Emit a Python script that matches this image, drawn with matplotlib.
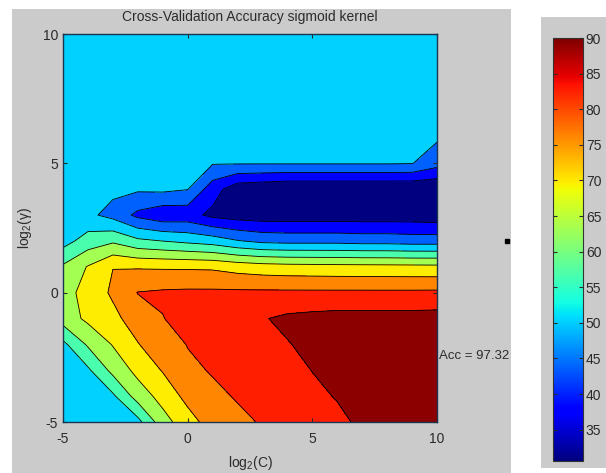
import matplotlib
matplotlib.use('Agg')
import matplotlib.pyplot as plt
from matplotlib.patches import Rectangle
from matplotlib import cm, colors
import numpy as np

plt.rcParams['font.family'] = ['Liberation Sans Narrow', 'Liberation Sans', 'DejaVu Sans']
plt.rcParams['mathtext.default'] = 'regular'
plt.rcParams['axes.unicode_minus'] = False

# grid of the search
log2c = list(range(-5, 11))
log2g = list(range(-5, 11))

# cross-validation accuracy (%), one row per log2(gamma) from -5 up to 10,
# columns are log2(C) = -5 .. 10
acc_g_m5 = [53, 53, 53, 54.5, 67, 73.5, 79, 81.5, 83, 84.5, 86, 88, 90, 92, 93, 93.5]
acc_g_m4 = [53, 53, 55.5, 66, 72, 78, 81.5, 83, 84.5, 86, 88, 89.4, 91, 92.5, 93, 93.5]
acc_g_m3 = [53, 55.5, 65, 71.5, 76.5, 81.5, 83, 84.5, 86, 87.5, 89.2, 90.5, 92, 93, 93.5, 93.5]
acc_g_m2 = [55, 64, 70, 75.8, 80, 82.8, 84.5, 86, 87.5, 88.8, 90.5, 91.5, 92.5, 93, 93, 93]
acc_g_m1 = [66, 71, 74.5, 79, 82.4, 85, 86.5, 87.5, 88.7, 90.3, 91, 91.5, 91.5, 91.5, 91.5, 91.7]
acc_g_0 = [66.5, 72.5, 77, 82.8, 83.5, 83.8, 83.8, 83.8, 83.8, 83.8, 83.8, 83.8, 83.8, 83.8, 83.8, 83.9]
acc_g_1 = [64, 70, 76, 75.5, 75.3, 75.2, 75, 73.5, 72.5, 72, 71.8, 71.6, 71.5, 71.4, 71.3, 71.2]
acc_g_2 = [54, 59.5, 62, 58, 56.5, 55, 53.5, 50.5, 48.5, 48, 48, 48, 47.5, 47.5, 47, 47]
acc_g_3 = [53, 51.5, 48, 42, 39, 39.5, 35.5, 34, 33.5, 33.5, 33.5, 33.5, 33.5, 33.5, 33.5, 33]
acc_g_4 = [53, 53, 51.5, 51, 51.5, 50.3, 40, 33, 32, 31, 31, 31, 31, 31, 31, 31]
acc_g_5 = [53, 53, 53, 53, 53, 53, 50.5, 50.5, 50.5, 50.5, 50.5, 50.5, 50.5, 50.5, 50.3, 46]
acc_g_6 = [53, 53, 53, 53, 53, 53, 53, 53, 53, 53, 53, 53, 53, 53, 53, 51]
acc_g_7 = [53, 53, 53, 53, 53, 53, 53, 53, 53, 53, 53, 53, 53, 53, 53, 53]
acc_g_8 = [53, 53, 53, 53, 53, 53, 53, 53, 53, 53, 53, 53, 53, 53, 53, 53]
acc_g_9 = [53, 53, 53, 53, 53, 53, 53, 53, 53, 53, 53, 53, 53, 53, 53, 53]
acc_g_10 = [53, 53, 53, 53, 53, 53, 53, 53, 53, 53, 53, 53, 53, 53, 53, 53]

levels = [30.6, 37.1, 43.6, 50.1, 56.6, 63.1, 69.6, 76.1, 82.6, 89.1, 97.32]
cbar_min, cbar_max = 30.6, 90
cbar_ticks = [35, 40, 45, 50, 55, 60, 65, 70, 75, 80, 85, 90]
best_acc = 97.32
best_point = (12.8, 2.0)

Z = np.array([acc_g_m5, acc_g_m4, acc_g_m3, acc_g_m2, acc_g_m1, acc_g_0, acc_g_1,
              acc_g_2, acc_g_3, acc_g_4, acc_g_5, acc_g_6, acc_g_7, acc_g_8,
              acc_g_9, acc_g_10])

gray = '#cbcbcb'
txt = '#2b2b2b'

fig = plt.figure(figsize=(6.06, 4.73), dpi=100, facecolor='white')

# gray panels behind the plot and the colorbar (pixel coords / figure size)
fig.add_artist(Rectangle((12/606, 0), 499/606, 464/473, transform=fig.transFigure,
                         facecolor=gray, edgecolor='none', zorder=0))
fig.add_artist(Rectangle((541/606, 5/473), 65/606, 451/473, transform=fig.transFigure,
                         facecolor=gray, edgecolor='none', zorder=0))

ax = fig.add_axes([63/606, 51/473, 374/606, 388/473])
norm = colors.Normalize(vmin=cbar_min, vmax=cbar_max)
band_colors = plt.cm.jet(norm(np.array(levels[:-1])))

ax.contourf(log2c, log2g, Z, levels=levels, colors=band_colors)
ax.contour(log2c, log2g, Z, levels=levels[1:-1], colors='k', linewidths=0.6)

ax.set_xlim(-5, 10)
ax.set_ylim(-5, 10)
ax.set_xticks([-5, 0, 5, 10])
ax.set_yticks([-5, 0, 5, 10])
ax.tick_params(axis='x', pad=7)
ax.tick_params(direction='in', length=3, top=True, right=True, labelsize=10,
               colors=txt)
for s in ax.spines.values():
    s.set_color('#1c3550')
    s.set_linewidth(1.0)

ax.set_title('Cross-Validation Accuracy sigmoid kernel', fontsize=10, color=txt, pad=9)
ax.set_xlabel('log$_2$(C)', fontsize=10, color=txt, labelpad=6)
ax.set_ylabel('log$_2$(γ)', fontsize=10, color=txt, labelpad=6)

ax.text(10.1, -2.45, 'Acc = {0}'.format(best_acc), fontsize=9.5, color=txt,
        ha='left', va='center', clip_on=False)
ax.plot([best_point[0]], [best_point[1]], 's', color='k', markersize=3.5, clip_on=False)

# colorbar on its own panel
cax = fig.add_axes([553/606, 12/473, 30/606, 423/473])
sm = cm.ScalarMappable(norm=norm, cmap='jet')
cb = fig.colorbar(sm, cax=cax, ticks=cbar_ticks)
cb.outline.set_linewidth(0.8)
cb.outline.set_edgecolor('#333333')
cax.tick_params(direction='in', length=3, left=True, right=True, labelsize=10,
                colors=txt, pad=2)

plt.savefig('out.png', dpi=100, facecolor='white')
plt.close(fig)
